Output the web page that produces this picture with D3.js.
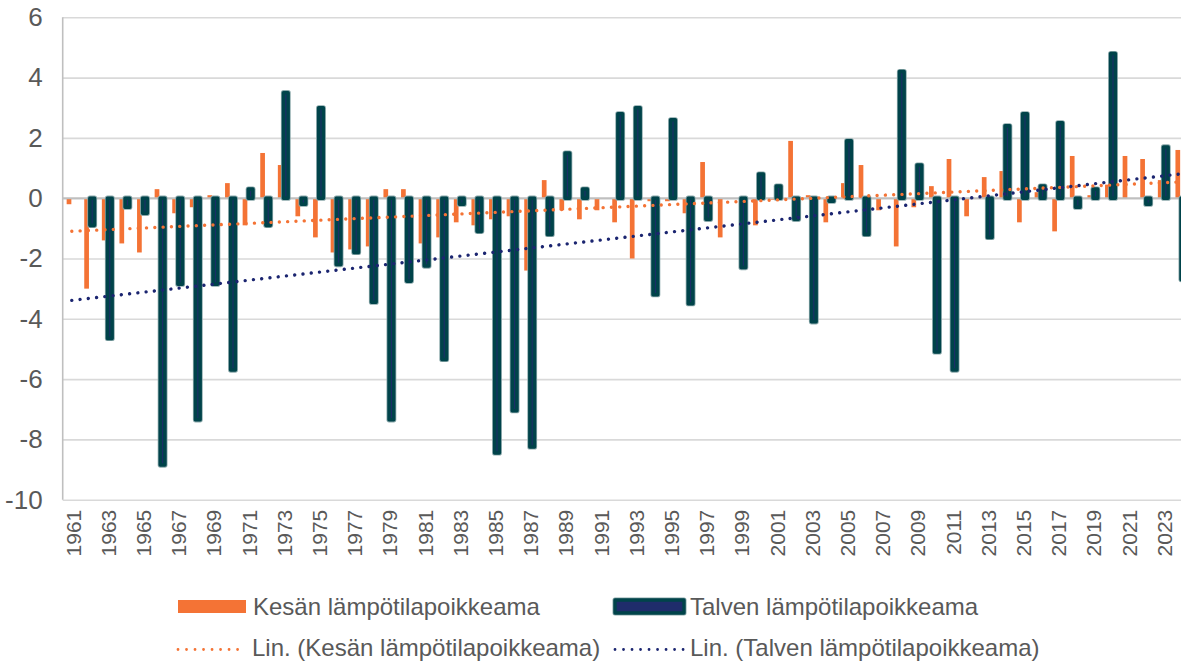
<!DOCTYPE html>
<html>
<head>
<meta charset="utf-8">
<script src="https://cdn.jsdelivr.net/npm/d3@7/dist/d3.min.js"></script>
<style>
  body { margin: 0; background: #fff; }
  svg text { font-family: Arial, "Liberation Sans", sans-serif; fill: #595959; }
</style>
</head>
<body>
<div id="chart"></div>
<script>
// ---------------------------------------------------------------------------
// Data
// ---------------------------------------------------------------------------
const years = [
  1961, 1962, 1963, 1964, 1965, 1966, 1967, 1968, 1969, 1970,
  1971, 1972, 1973, 1974, 1975, 1976, 1977, 1978, 1979, 1980,
  1981, 1982, 1983, 1984, 1985, 1986, 1987, 1988, 1989, 1990,
  1991, 1992, 1993, 1994, 1995, 1996, 1997, 1998, 1999, 2000,
  2001, 2002, 2003, 2004, 2005, 2006, 2007, 2008, 2009, 2010,
  2011, 2012, 2013, 2014, 2015, 2016, 2017, 2018, 2019, 2020,
  2021, 2022, 2023, 2024
];

// Kesän lämpötilapoikkeama (summer)
const summer = [
  -0.2, -3.0, -1.4, -1.5, -1.8, 0.3, -0.5, -0.3, 0.1, 0.5,
  -0.9, 1.5, 1.1, -0.6, -1.3, -1.8, -1.7, -1.6, 0.3, 0.3,
  -1.5, -1.3, -0.8, -0.9, -0.7, -0.6, -2.4, 0.6, -0.4, -0.7,
  -0.4, -0.8, -2.0, -0.1, -0.1, -0.5, 1.2, -1.3, 0.0, -0.9,
  -0.05, 1.9, 0.1, -0.8, 0.5, 1.1, -0.4, -1.6, -0.3, 0.4,
  1.3, -0.6, 0.7, 0.9, -0.8, 0.2, -1.1, 1.4, 0.1, 0.45,
  1.4, 1.3, 0.6, 1.6
];

// Talven lämpötilapoikkeama (winter), null = no bar
const winter = [
  null, -0.9, -4.65, -0.3, -0.5, -8.85, -2.85, -7.35, -2.85, -5.7,
  0.3, -0.9, 3.5, -0.2, 3.0, -2.2, -1.8, -3.45, -7.35, -2.75,
  -2.25, -5.35, -0.2, -1.1, -8.45, -7.05, -8.25, -1.2, 1.5, 0.3,
  null, 2.8, 3.0, -3.2, 2.6, -3.5, -0.7, null, -2.3, 0.8,
  0.4, -0.7, -4.1, -0.1, 1.9, -1.2, null, 4.2, 1.1, -5.1,
  -5.7, null, -1.3, 2.4, 2.8, 0.4, 2.5, -0.3, 0.3, 4.8,
  null, -0.2, 1.7, -2.7
];

const yTicks = [6, 4, 2, 0, -2, -4, -6, -8, -10];
const xTicks = years.filter((d, i) => i % 2 === 0);

const nameSummer = 'Kesän lämpötilapoikkeama';
const nameWinter = 'Talven lämpötilapoikkeama';
const nameSummerTrend = 'Lin. (Kesän lämpötilapoikkeama)';
const nameWinterTrend = 'Lin. (Talven lämpötilapoikkeama)';

// ---------------------------------------------------------------------------
// Helpers
// ---------------------------------------------------------------------------

// Least-squares line over category index, skipping empty values (like Excel "Lin.")
function linearFit(values) {
  const pts = values.map((v, i) => [i, v]).filter(p => p[1] !== null);
  const mx = d3.mean(pts, p => p[0]);
  const my = d3.mean(pts, p => p[1]);
  let sxy = 0, sxx = 0;
  pts.forEach(([px, py]) => { sxy += (px - mx) * (py - my); sxx += (px - mx) * (px - mx); });
  const slope = sxy / sxx;
  const icpt = my - slope * mx;
  return i => icpt + slope * i;
}

// ---------------------------------------------------------------------------
// Layout
// ---------------------------------------------------------------------------
const W = 1181, H = 664;
const plotLeft = 62.7;
const plotTop = 17.3, plotBottom = 499.7;
const step = 17.6;

const colOrange = '#F47335';
const colTeal = '#00434A';
const colNavy = '#1F2C6B';
const colHalo = '#8AA8AA';
const colTrendNavy = '#1B2570';

const x = d3.scaleBand()
  .domain(years)
  .range([63, 63 + years.length * step])
  .padding(0);

const y = d3.scaleLinear()
  .domain([-10, 6])
  .range([plotBottom, plotTop]);

const cx = yr => x(yr) + x.bandwidth() / 2;

const svg = d3.select('#chart').append('svg')
  .attr('width', W)
  .attr('height', H)
  .style('display', 'block');

// ── Y axis with gridlines ───────────────────────────────────────────────
const yAxis = svg.append('g')
  .attr('transform', `translate(${plotLeft},0)`)
  .call(d3.axisLeft(y)
    .tickValues(yTicks)
    .tickFormat(d => String(d))
    .tickSize(-(W - plotLeft + 20))
    .tickPadding(20));

yAxis.select('.domain').remove();
yAxis.selectAll('.tick line')
  .attr('stroke', '#D9D9D9')
  .attr('stroke-width', 1.6);
yAxis.selectAll('.tick text')
  .attr('font-size', 26)
  .attr('fill', '#595959')
  .style('font-family', 'Arial, "Liberation Sans", sans-serif');

// left axis line
svg.append('line')
  .attr('x1', plotLeft).attr('x2', plotLeft)
  .attr('y1', plotTop).attr('y2', plotBottom)
  .attr('stroke', '#BFBFBF')
  .attr('stroke-width', 1.6);

// ── X axis labels (rotated) ─────────────────────────────────────────────
const xAxis = svg.append('g')
  .attr('transform', `translate(0,${plotBottom})`)
  .call(d3.axisBottom(x).tickValues(xTicks).tickFormat(d => String(d)).tickSize(0).tickPadding(0));

xAxis.select('.domain').remove();
xAxis.selectAll('.tick text')
  .attr('transform', 'rotate(-90)')
  .attr('text-anchor', 'end')
  .attr('x', -10)
  .attr('y', 1.5)
  .attr('dy', '0.35em')
  .attr('font-size', 21)
  .attr('fill', '#595959')
  .style('font-family', 'Arial, "Liberation Sans", sans-serif');

// ── Summer bars ────────────────────────────────────────────────────────
const orangeW = 4.7;
svg.append('g').selectAll('rect')
  .data(years.map((yr, i) => ({ yr, v: summer[i] })))
  .join('rect')
  .attr('x', d => cx(d.yr) - 2.8 - orangeW / 2)
  .attr('width', orangeW)
  .attr('y', d => y(Math.max(0, d.v)))
  .attr('height', d => Math.abs(y(d.v) - y(0)))
  .attr('fill', colOrange);

// zero line (category axis)
svg.append('line')
  .attr('x1', plotLeft).attr('x2', W)
  .attr('y1', y(0)).attr('y2', y(0))
  .attr('stroke', '#BFBFBF')
  .attr('stroke-width', 2);

// ── Winter bars ────────────────────────────────────────────────────────
const winterData = years.map((yr, i) => ({ yr, v: winter[i] })).filter(d => d.v !== null);
const tealW = 4.6;
const winterG = svg.append('g');

function winterRect(sel, strokeCol, strokeW, fill) {
  sel.selectAll(null)
    .data(winterData)
    .join('rect')
    .attr('x', d => cx(d.yr) + 2.8 - tealW / 2)
    .attr('width', tealW)
    .attr('y', d => y(Math.max(0, d.v)))
    .attr('height', d => Math.abs(y(d.v) - y(0)))
    .attr('fill', fill)
    .attr('stroke', strokeCol)
    .attr('stroke-width', strokeW)
    .attr('stroke-linejoin', 'round');
}
winterRect(winterG.append('g'), colHalo, 5.2, colHalo);
winterRect(winterG.append('g'), colTeal, 3.6, colNavy);

// ── Trend lines ────────────────────────────────────────────────────────
function drawTrend(values, color) {
  const f = linearFit(values);
  const first = 0, last = years.length - 1;
  svg.append('line')
    .attr('x1', cx(years[first])).attr('y1', y(f(first)))
    .attr('x2', cx(years[last])).attr('y2', y(f(last)))
    .attr('stroke', color)
    .attr('stroke-width', 3.4)
    .attr('stroke-linecap', 'round')
    .attr('stroke-dasharray', '0.01 8.3');
}
drawTrend(summer, colOrange);
drawTrend(winter, colTrendNavy);

// ── Legend ─────────────────────────────────────────────────────────────
const legend = svg.append('g');
const legendFont = 24;

// row 1
legend.append('rect')
  .attr('x', 178).attr('y', 600).attr('width', 68).attr('height', 13)
  .attr('fill', colOrange);
legend.append('text')
  .attr('x', 253).attr('y', 614.5)
  .attr('font-size', legendFont)
  .text(nameSummer);

legend.append('rect')
  .attr('x', 615).attr('y', 600).attr('width', 69).attr('height', 13)
  .attr('fill', colNavy)
  .attr('stroke', colHalo).attr('stroke-width', 5)
  .attr('stroke-linejoin', 'round');
legend.append('rect')
  .attr('x', 615).attr('y', 600).attr('width', 69).attr('height', 13)
  .attr('fill', colNavy)
  .attr('stroke', colTeal).attr('stroke-width', 3.4)
  .attr('stroke-linejoin', 'round');
legend.append('text')
  .attr('x', 690).attr('y', 614.5)
  .attr('font-size', legendFont)
  .text(nameWinter);

// row 2
legend.append('line')
  .attr('x1', 178).attr('x2', 246)
  .attr('y1', 649.5).attr('y2', 649.5)
  .attr('stroke', colOrange).attr('stroke-width', 2.8)
  .attr('stroke-linecap', 'round')
  .attr('stroke-dasharray', '0.01 8.5');
legend.append('text')
  .attr('x', 252).attr('y', 656)
  .attr('font-size', legendFont)
  .text(nameSummerTrend);

legend.append('line')
  .attr('x1', 615).attr('x2', 684)
  .attr('y1', 649.5).attr('y2', 649.5)
  .attr('stroke', colTrendNavy).attr('stroke-width', 2.8)
  .attr('stroke-linecap', 'round')
  .attr('stroke-dasharray', '0.01 8.5');
legend.append('text')
  .attr('x', 690).attr('y', 656)
  .attr('font-size', legendFont)
  .text(nameWinterTrend);
</script>
</body>
</html>
